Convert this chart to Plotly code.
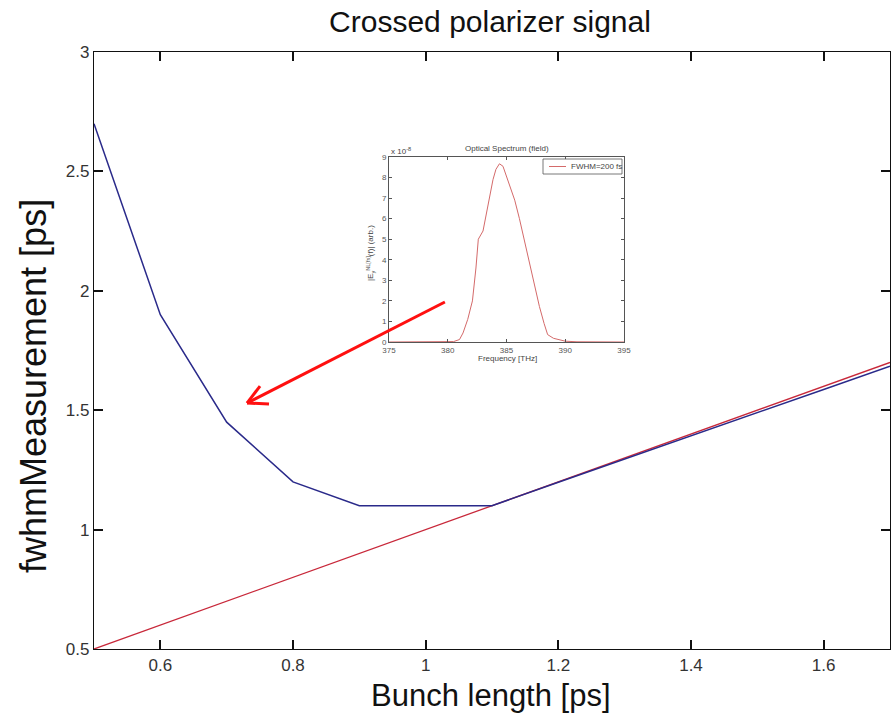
import plotly.graph_objects as go

# Main chart data
bunch_length = [0.5, 0.6, 0.7, 0.8, 0.9, 1.0, 1.1, 1.2, 1.3, 1.4, 1.5, 1.6, 1.7]
fwhm_measured = [2.70, 1.90, 1.45, 1.20, 1.10, 1.10, 1.10, 1.198, 1.296, 1.393, 1.490, 1.587, 1.684]
fwhm_reference = [0.5, 0.6, 0.7, 0.8, 0.9, 1.0, 1.1, 1.2, 1.3, 1.4, 1.5, 1.6, 1.7]

# Inset spectrum data (x 1e-8)
freq_thz = [375, 378, 380, 380.5, 381.0, 381.3, 381.7, 382.1, 382.4, 382.6, 383.0, 383.4,
            383.85, 384.1, 384.4, 384.7, 385.1, 385.7, 386.1, 386.5, 386.9, 387.25, 387.8,
            388.2, 388.5, 389.0, 389.5, 390.0, 391.0, 393.0, 395.0]
spectrum = [0.0, 0.0, 0.0, 0.02, 0.12, 0.44, 1.1, 2.0, 3.6, 5.0, 5.4, 6.6,
            7.9, 8.4, 8.67, 8.55, 7.9, 6.9, 6.0, 5.0, 4.0, 3.0, 1.73,
            0.9, 0.36, 0.18, 0.1, 0.04, 0.01, 0.0, 0.0]
legend_label = "FWHM=200 fs"

W, H = 896, 716
L, R, T, B = 94, 890, 52, 649

def px_x(p):
    return (p - L) / (R - L)

def px_y(p):
    return (B - p) / (B - T)

inset_color = "#d46a6a"

fig = go.Figure()
fig.add_trace(go.Scatter(x=bunch_length, y=fwhm_reference, mode="lines",
                         line=dict(color="#c8283a", width=1.3), showlegend=False))
fig.add_trace(go.Scatter(x=bunch_length, y=fwhm_measured, mode="lines",
                         line=dict(color="#2a2a8a", width=1.5), showlegend=False))
fig.add_trace(go.Scatter(x=freq_thz, y=spectrum, mode="lines", xaxis="x2", yaxis="y2",
                         line=dict(color=inset_color, width=1), name=legend_label,
                         showlegend=False))

font_main = "Liberation Sans, Arial, sans-serif"
main_axis = dict(showline=True, linecolor="#111", linewidth=1.4, mirror="ticks",
                 ticks="inside", ticklen=9, tickcolor="#111", tickwidth=1.6,
                 tickfont=dict(size=17, color="#333"), showgrid=False, zeroline=False,
                 automargin=False)
inset_axis = dict(showline=True, linecolor="#555", linewidth=0.8, mirror="ticks",
                  ticks="inside", ticklen=3, tickcolor="#555", tickwidth=1,
                  tickfont=dict(size=8, color="#555"), showgrid=False, zeroline=False,
                  automargin=False)

fig.update_layout(
    width=W, height=H, autosize=False,
    margin=dict(l=L, r=W - R, t=T, b=H - B, pad=0),
    paper_bgcolor="white", plot_bgcolor="white",
    font=dict(family=font_main),
    showlegend=False,
    title=dict(text="Crossed polarizer signal", font=dict(size=30, color="#111"),
               x=px_x(490), xref="paper", xanchor="center",
               y=1 - 21 / H, yref="container", yanchor="middle", automargin=False),
    xaxis=dict(range=[0.5, 1.7], dtick=0.2, tick0=0.6, **main_axis),
    yaxis=dict(range=[0.5, 3.0], dtick=0.5, tick0=0.5, **main_axis),
    xaxis2=dict(domain=[px_x(389), px_x(624)], anchor="y2", range=[375, 395],
                dtick=5, tick0=375, **inset_axis),
    yaxis2=dict(domain=[px_y(342), px_y(157)], anchor="x2", range=[0, 9],
                dtick=1, tick0=0, **inset_axis),
)

annotations = [
    dict(text="Bunch length [ps]", x=px_x(490.5), y=px_y(695), xref="paper", yref="paper",
         xanchor="center", yanchor="middle", showarrow=False,
         font=dict(size=31, color="#111")),
    dict(text="fwhmMeasurement [ps]", x=px_x(33), y=px_y(386), xref="paper", yref="paper",
         xanchor="center", yanchor="middle", showarrow=False, textangle=-90,
         font=dict(size=36, color="#111")),
    dict(text="Optical Spectrum (field)", x=px_x(507), y=px_y(149), xref="paper", yref="paper",
         xanchor="center", yanchor="middle", showarrow=False,
         font=dict(size=8, color="#444")),
    dict(text="Frequency [THz]", x=px_x(507), y=px_y(358), xref="paper", yref="paper",
         xanchor="center", yanchor="middle", showarrow=False,
         font=dict(size=8, color="#444")),
    dict(text="|E<sub>y</sub><sup>NL[fs]</sup>(f)| (arb.)", x=px_x(370), y=px_y(253),
         xref="paper", yref="paper", xanchor="center", yanchor="middle", showarrow=False,
         textangle=-90, font=dict(size=8, color="#444")),
    dict(text="x 10<sup>-8</sup>", x=px_x(389), y=px_y(151), xref="paper", yref="paper",
         xanchor="left", yanchor="middle", showarrow=False,
         font=dict(size=8, color="#444")),
    dict(text=legend_label, x=px_x(569), y=px_y(166.5), xref="paper", yref="paper",
         xanchor="left", yanchor="middle", showarrow=False,
         font=dict(size=8, color="#444")),
]
fig.update_layout(annotations=annotations)

# Inset legend box and sample line
fig.add_shape(type="rect", xref="paper", yref="paper", x0=px_x(543), x1=px_x(622),
              y0=px_y(174), y1=px_y(159), line=dict(color="#555", width=0.8),
              fillcolor="white", layer="above")
fig.add_shape(type="line", xref="paper", yref="paper", x0=px_x(549), x1=px_x(566),
              y0=px_y(166.5), y1=px_y(166.5), line=dict(color=inset_color, width=1),
              layer="above")

# Red arrow (open V head)
arrow_tail = (1.029, 1.953)
arrow_head = (0.7307, 1.530)
arm1 = (0.7503, 1.601)
arm2 = (0.7638, 1.526)
arrow_line = dict(color="#ff1010", width=3)
fig.add_shape(type="line", xref="x", yref="y", x0=arrow_tail[0], y0=arrow_tail[1],
              x1=arrow_head[0], y1=arrow_head[1], line=arrow_line, layer="above")
fig.add_shape(type="line", xref="x", yref="y", x0=arrow_head[0], y0=arrow_head[1],
              x1=arm1[0], y1=arm1[1], line=arrow_line, layer="above")
fig.add_shape(type="line", xref="x", yref="y", x0=arrow_head[0], y0=arrow_head[1],
              x1=arm2[0], y1=arm2[1], line=arrow_line, layer="above")

fig.write_html("out.html")
